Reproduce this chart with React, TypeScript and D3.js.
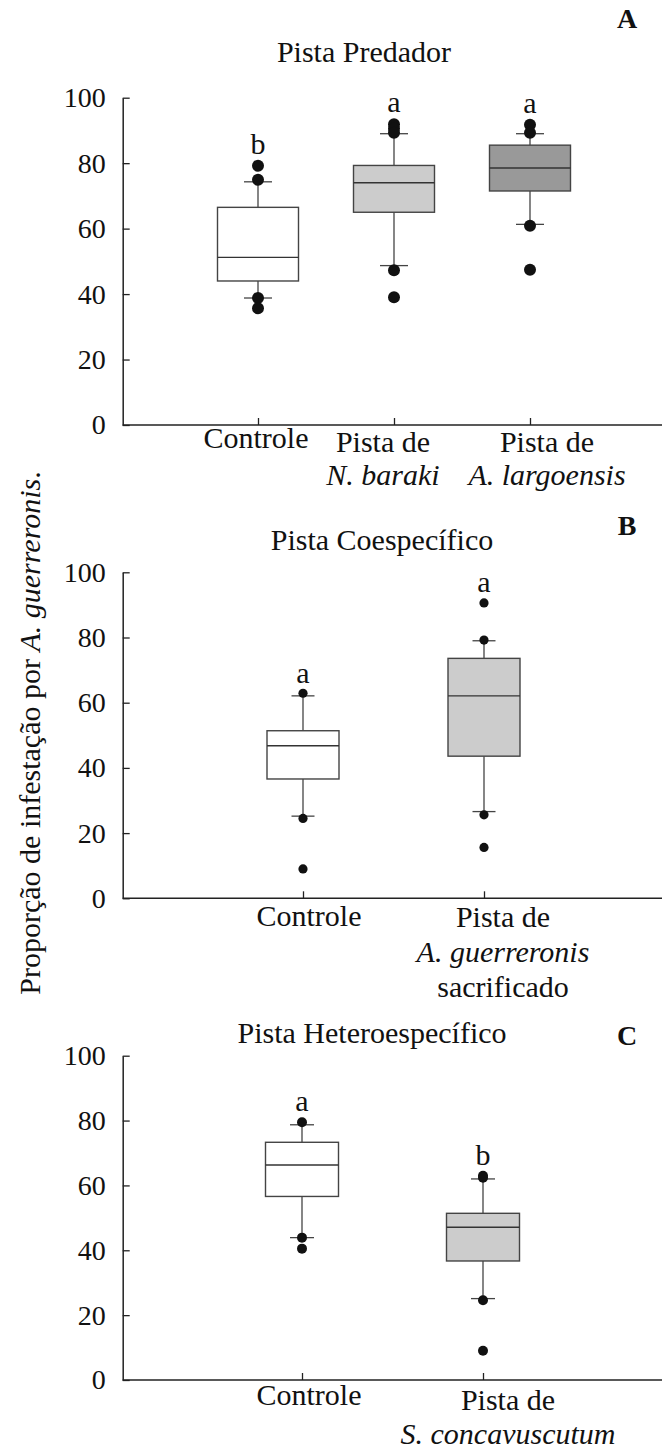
import React, { useEffect, useRef } from 'react';
import * as d3 from 'd3';

interface BoxStat {
  lo: number;
  q1: number;
  med: number;
  q3: number;
  hi: number;
  out: number[];
}

interface LabelLine {
  t: string;
  i?: boolean;
}

// Panel A - Pista Predador
const predCategories = ['Controle', 'N. baraki', 'A. largoensis'];
const predStats: BoxStat[] = [
  { lo: 38.8, q1: 44.0, med: 51.2, q3: 66.5, hi: 74.3, out: [79.2, 74.9, 38.8, 35.7] },
  { lo: 48.7, q1: 65.0, med: 74.0, q3: 79.3, hi: 89.0, out: [91.9, 90.6, 89.3, 47.3, 39.0] },
  { lo: 61.3, q1: 71.5, med: 78.5, q3: 85.5, hi: 89.0, out: [91.7, 89.3, 60.9, 47.4] },
];
const predLetters = ['b', 'a', 'a'];
const predLabels: LabelLine[][] = [
  [{ t: 'Controle' }],
  [{ t: 'Pista de' }, { t: 'N. baraki', i: true }],
  [{ t: 'Pista de' }, { t: 'A. largoensis', i: true }],
];

// Panel B - Pista Coespecífico
const coespCategories = ['Controle', 'A. guerreronis sacrificado'];
const coespStats: BoxStat[] = [
  { lo: 25.2, q1: 36.6, med: 46.8, q3: 51.4, hi: 62.1, out: [62.9, 24.5, 9.0] },
  { lo: 26.6, q1: 43.6, med: 62.1, q3: 73.6, hi: 79.0, out: [90.6, 79.2, 25.6, 15.6] },
];
const coespLetters = ['a', 'a'];
const coespLabels: LabelLine[][] = [
  [{ t: 'Controle' }],
  [{ t: 'Pista de' }, { t: 'A. guerreronis', i: true }, { t: 'sacrificado' }],
];

// Panel C - Pista Heteroespecífico
const heteroCategories = ['Controle', 'S. concavuscutum'];
const heteroStats: BoxStat[] = [
  { lo: 43.9, q1: 56.6, med: 66.3, q3: 73.3, hi: 78.7, out: [79.5, 43.9, 40.5] },
  { lo: 25.1, q1: 36.7, med: 47.1, q3: 51.4, hi: 62.0, out: [63.0, 62.4, 24.6, 9.0] },
];
const heteroLetters = ['a', 'b'];
const heteroLabels: LabelLine[][] = [
  [{ t: 'Controle' }],
  [{ t: 'Pista de' }, { t: 'S. concavuscutum', i: true }],
];

const yTicks = [0, 20, 40, 60, 80, 100];

const FONT = '"Liberation Serif", "Times New Roman", Times, serif';
const W = 662;
const H = 1450;
const AXIS_X = 122.7;

const panels = [
  {
    title: 'Pista Predador', tag: 'A', cats: predCategories, stats: predStats, letters: predLetters, labels: predLabels,
    fills: ['#ffffff', '#cccccc', '#999999'],
    top: 97.7, bottom: 425, xRange: [258, 530], boxW: 81, capW: 28, r: 6,
    titleX: 364, titleY: 62, tagY: 28, labelDx: [-2, -11, 17], labelDy: [23, 27, 27], lineH: 33,
  },
  {
    title: 'Pista Coespecífico', tag: 'B', cats: coespCategories, stats: coespStats, letters: coespLetters, labels: coespLabels,
    fills: ['#ffffff', '#cccccc'],
    top: 572.3, bottom: 898.3, xRange: [303, 484], boxW: 72, capW: 23, r: 4.6,
    titleX: 382, titleY: 550, tagY: 535, labelDx: [6, 19], labelDy: [28, 29], lineH: 35,
  },
  {
    title: 'Pista Heteroespecífico', tag: 'C', cats: heteroCategories, stats: heteroStats, letters: heteroLetters, labels: heteroLabels,
    fills: ['#ffffff', '#cccccc'],
    top: 1055.7, bottom: 1380, xRange: [302, 483], boxW: 73, capW: 24, r: 5,
    titleX: 372, titleY: 1043, tagY: 1045, labelDx: [7, 25], labelDy: [25, 30], lineH: 34,
  },
];

const App: React.FC = () => {
  const svgRef = useRef<SVGSVGElement>(null);

  useEffect(() => {
    if (!svgRef.current) return;
    const svg = d3.select(svgRef.current);
    svg.selectAll('*').remove();

    panels.forEach((p) => {
      const g = svg.append('g');
      const y = d3.scaleLinear().domain([0, 100]).range([p.bottom, p.top]);
      const x = d3.scalePoint<string>().domain(p.cats).range(p.xRange as [number, number]);

      // y axis
      g.append('g')
        .attr('transform', `translate(${AXIS_X},0)`)
        .call(d3.axisLeft(y).tickValues(yTicks).tickSizeInner(-7).tickSizeOuter(0).tickPadding(17))
        .call((a) => a.select('.domain').attr('stroke', '#222').attr('stroke-width', 1.5))
        .call((a) => a.selectAll('.tick line').attr('stroke', '#222').attr('stroke-width', 1.3))
        .call((a) =>
          a.selectAll('.tick text')
            .attr('font-size', 28)
            .attr('font-family', FONT)
            .attr('fill', '#111')
        );

      // x axis line, across to the page edge
      g.append('line')
        .attr('x1', AXIS_X)
        .attr('x2', W)
        .attr('y1', y(0))
        .attr('y2', y(0))
        .attr('stroke', '#222')
        .attr('stroke-width', 1.5);

      g.append('g')
        .attr('transform', `translate(0,${y(0)})`)
        .call(d3.axisBottom(x).tickSizeInner(-7).tickSizeOuter(0).tickFormat(() => ''))
        .call((a) => a.select('.domain').remove())
        .call((a) => a.selectAll('.tick line').attr('stroke', '#222').attr('stroke-width', 1.3));

      // boxes
      p.stats.forEach((s, i) => {
        const cx = x(p.cats[i]) as number;
        const bg = g.append('g');

        bg.append('line')
          .attr('x1', cx).attr('x2', cx)
          .attr('y1', y(s.q3)).attr('y2', y(s.hi))
          .attr('stroke', '#444').attr('stroke-width', 1.3);
        bg.append('line')
          .attr('x1', cx).attr('x2', cx)
          .attr('y1', y(s.q1)).attr('y2', y(s.lo))
          .attr('stroke', '#444').attr('stroke-width', 1.3);

        bg.append('rect')
          .attr('x', cx - p.boxW / 2)
          .attr('y', y(s.q3))
          .attr('width', p.boxW)
          .attr('height', y(s.q1) - y(s.q3))
          .attr('fill', p.fills[i])
          .attr('stroke', '#444')
          .attr('stroke-width', 1.4);

        bg.append('line')
          .attr('x1', cx - p.boxW / 2).attr('x2', cx + p.boxW / 2)
          .attr('y1', y(s.med)).attr('y2', y(s.med))
          .attr('stroke', '#333').attr('stroke-width', 1.4);

        [s.hi, s.lo].forEach((v) => {
          bg.append('line')
            .attr('x1', cx - p.capW / 2).attr('x2', cx + p.capW / 2)
            .attr('y1', y(v)).attr('y2', y(v))
            .attr('stroke', '#444').attr('stroke-width', 1.3);
        });

        bg.selectAll('circle')
          .data(s.out)
          .enter()
          .append('circle')
          .attr('cx', cx)
          .attr('cy', (d) => y(d))
          .attr('r', p.r)
          .attr('fill', '#111');

        // significance letter
        const topVal = Math.max(s.hi, ...s.out);
        g.append('text')
          .attr('x', cx)
          .attr('y', y(topVal) - p.r - 6)
          .attr('text-anchor', 'middle')
          .attr('font-family', FONT)
          .attr('font-size', 30)
          .attr('fill', '#111')
          .text(p.letters[i]);

        // category label
        const lab = g.append('text')
          .attr('text-anchor', 'middle')
          .attr('font-family', FONT)
          .attr('font-size', 30)
          .attr('fill', '#111');
        p.labels[i].forEach((ln, k) => {
          lab.append('tspan')
            .attr('x', cx + p.labelDx[i])
            .attr('y', y(0) + p.labelDy[i] + k * p.lineH)
            .attr('font-style', ln.i ? 'italic' : 'normal')
            .text(ln.t);
        });
      });

      // title and panel tag
      g.append('text')
        .attr('x', p.titleX)
        .attr('y', p.titleY)
        .attr('text-anchor', 'middle')
        .attr('font-family', FONT)
        .attr('font-size', 30)
        .attr('fill', '#111')
        .text(p.title);

      g.append('text')
        .attr('x', 627)
        .attr('y', p.tagY)
        .attr('text-anchor', 'middle')
        .attr('font-family', FONT)
        .attr('font-size', 28)
        .attr('font-weight', 'bold')
        .attr('fill', '#111')
        .text(p.tag);
    });

    // shared y-axis label
    const yl = svg.append('text')
      .attr('transform', 'translate(40,733) rotate(-90)')
      .attr('text-anchor', 'middle')
      .attr('font-family', FONT)
      .attr('font-size', 30)
      .attr('fill', '#111');
    yl.append('tspan').text('Proporção de infestação por ');
    yl.append('tspan').attr('font-style', 'italic').text('A. guerreronis');
    yl.append('tspan').text('.');
  }, []);

  return (
    <div style={{ position: 'absolute', left: 0, top: 0, background: '#fff' }}>
      <svg ref={svgRef} width={W} height={H} style={{ display: 'block' }}></svg>
    </div>
  );
};

export default App;
